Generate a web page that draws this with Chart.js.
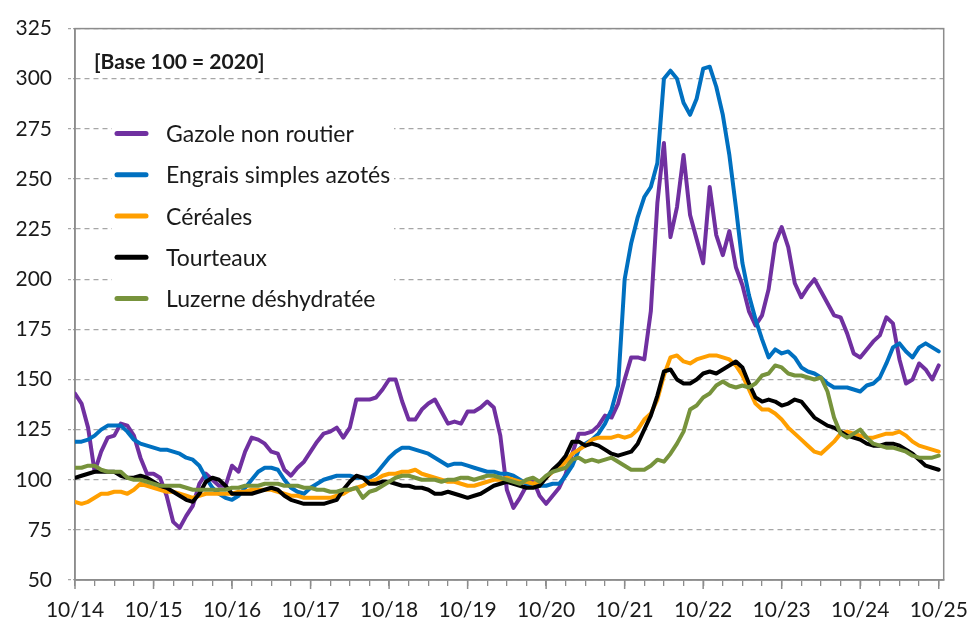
<!DOCTYPE html>
<html>
<head>
<meta charset="utf-8">
<script src="https://cdn.jsdelivr.net/npm/chart.js@4.4.1/dist/chart.umd.min.js"></script>
<style>
  html, body { margin: 0; padding: 0; background: #fff; }
  #wrap { width: 980px; height: 621px; }
</style>
</head>
<body>
<div id="wrap"><canvas id="myChart" width="980" height="621"></canvas></div>
<script>
// DONNEES : mensuelles, 10/2014 -> 10/2025 ---------------------------------------
const yearLabels = ['10/14', '10/15', '10/16', '10/17', '10/18', '10/19', '10/20', '10/21', '10/22', '10/23', '10/24', '10/25'];
const seriesNames = ['Gazole non routier', 'Engrais simples azotés', 'Céréales', 'Tourteaux', 'Luzerne déshydratée'];
const seriesColors = ['#7030A0', '#0070C0', '#FF9F00', '#000000', '#77933C'];

const gazole = [
  143, 138, 126, 104, 114, 121, 122, 128, 127, 122, 111, 103,
  103, 101, 92, 79, 76, 82, 87, 98, 103, 100, 97, 97,
  107, 104, 114, 121, 120, 118, 114, 113, 105, 102, 106, 109,
  114, 119, 123, 124, 126, 121, 126, 140, 140, 140, 141, 145,
  150, 150, 139, 130, 130, 135, 138, 140, 134, 128, 129, 128,
  134, 134, 136, 139, 136, 122, 95, 86, 91, 97, 100, 92,
  88, 92, 96, 103, 113, 123, 123, 124, 127, 132, 131, 138,
  150, 161, 161, 160, 184, 238, 268, 221, 236, 262, 232, 220,
  208, 246, 222, 212, 224, 206, 197, 184, 177, 182, 195, 218,
  226, 216, 198, 191, 196, 200, 194, 188, 182, 181, 173, 163,
  161, 165, 169, 172, 181, 178, 160, 148, 150, 158, 155, 150,
  157
];
const engrais = [
  119, 119, 120, 122, 125, 127, 127, 127, 124, 120, 118, 117,
  116, 115, 115, 114, 113, 111, 110, 107, 101, 96, 93, 91,
  90, 92, 96, 100, 104, 106, 106, 105, 100, 96, 94, 93,
  96, 98, 100, 101, 102, 102, 102, 101, 101, 101, 103, 107,
  111, 114, 116, 116, 115, 114, 113, 111, 109, 107, 108, 108,
  107, 106, 105, 104, 104, 103, 103, 102, 100, 98, 97, 97,
  97, 98, 98, 102, 107, 115, 118, 120, 123, 128, 135, 147,
  200, 218, 231, 241, 246, 258, 300, 304, 300, 288, 282, 290,
  305, 306, 296, 282, 262, 236, 208, 192, 180, 170, 161, 165,
  163, 164, 161, 156, 154, 153, 151, 148, 146, 146, 146, 145,
  144, 147, 148, 151, 158, 166, 168, 164, 161, 166, 168, 166,
  164
];
const cereales = [
  89, 88, 89, 91, 93, 93, 94, 94, 93, 95, 98, 97,
  96, 95, 94, 94, 93, 92, 91, 92, 93, 93, 93, 93,
  93, 94, 94, 95, 95, 95, 95, 94, 93, 92, 92, 91,
  91, 91, 91, 91, 92, 93, 95, 96, 97, 99, 100, 102,
  103, 103, 104, 104, 105, 103, 102, 101, 100, 99, 99, 98,
  97, 97, 98, 99, 100, 100, 101, 100, 99, 99, 98, 99,
  101, 104, 106, 109, 113, 115, 117, 120, 121, 121, 121, 122,
  121, 122, 125, 130, 133, 140, 152, 161, 162, 159, 158, 160,
  161, 162, 162, 161, 160, 157, 152, 145, 138, 135, 135, 133,
  130, 126, 123, 120, 117, 114, 113, 116, 119, 123, 124, 123,
  122, 121, 121, 122, 123, 123, 124, 122, 119, 117, 116, 115,
  114
];
const tourteaux = [
  101, 102, 103, 104, 104, 104, 104, 102, 101, 101, 102, 101,
  99, 97, 96, 94, 92, 90, 89, 93, 99, 101, 100, 97,
  93, 93, 93, 93, 94, 95, 96, 95, 92, 90, 89, 88,
  88, 88, 88, 89, 90, 95, 99, 102, 101, 98, 98, 99,
  99, 98, 97, 97, 96, 96, 95, 93, 93, 94, 93, 92,
  91, 92, 93, 95, 97, 98, 99, 98, 97, 96, 96, 97,
  101, 105, 108, 112, 119, 119, 117, 118, 117, 115, 113, 112,
  113, 114, 118, 125, 132, 142, 154, 155, 150, 148, 148, 150,
  153, 154, 153, 155, 157, 159, 156, 148, 141, 139, 140, 139,
  137, 138, 140, 139, 135, 131, 129, 127, 126, 124, 122, 121,
  120, 118, 117, 117, 118, 118, 117, 115, 113, 110, 107, 106,
  105
];
const luzerne = [
  106, 106, 107, 107, 105, 104, 104, 104, 101, 100, 100, 99,
  98, 97, 97, 97, 97, 96, 95, 95, 95, 95, 95, 95,
  96, 96, 97, 97, 97, 98, 98, 98, 97, 97, 97, 96,
  96, 95, 95, 94, 94, 95, 95, 96, 91, 94, 95, 97,
  99, 101, 102, 102, 101, 100, 100, 100, 99, 100, 100, 101,
  101, 100, 101, 102, 102, 101, 100, 99, 98, 100, 101, 99,
  102, 104, 105, 106, 110, 111, 109, 110, 109, 110, 111, 109,
  107, 105, 105, 105, 107, 110, 109, 113, 118, 124, 135, 137,
  141, 143, 147, 149, 147, 146, 147, 146, 148, 152, 153, 157,
  156, 153, 152, 152, 151, 150, 151, 144, 131, 123, 121, 123,
  125, 121, 118, 117, 116, 116, 115, 114, 112, 111, 111, 111,
  112
];

const allSeries = [gazole, engrais, cereales, tourteaux, luzerne];

// LE CADRE, LE TITRE ET LA LEGENDE : --------------------------------------------
const cadrePlugin = {
  id: 'cadre',
  beforeDatasetsDraw(chart) {
    const { ctx, chartArea: a, scales } = chart;
    ctx.save();
    // cadre gris autour de la zone de tracé
    ctx.strokeStyle = '#8c8c8c';
    ctx.lineWidth = 1.5;
    ctx.strokeRect(a.left, a.top, a.right - a.left, a.bottom - a.top);

    // graduations annuelles un peu plus longues
    yearLabels.forEach((lab, i) => {
      const x = scales.x.getPixelForValue(i * 12);
      ctx.beginPath();
      ctx.moveTo(x, a.bottom);
      ctx.lineTo(x, a.bottom + 9);
      ctx.stroke();
    });

    // mention de la base
    ctx.fillStyle = '#1a1a1a';
    ctx.font = 'bold 21px Lato';
    ctx.textBaseline = 'middle';
    ctx.fillText('[Base 100 = 2020]', a.left + 19, a.top + 34);

    // légende (fond blanc qui masque la grille)
    const x0 = a.left + 37;
    const y0 = a.top + 105;
    const pas = 41.25;
    ctx.fillStyle = '#fff';
    ctx.fillRect(x0, y0 - 24, 282, pas * 4 + 48);
    ctx.font = '23px Lato';
    ctx.lineCap = 'round';
    ctx.lineWidth = 5;
    seriesNames.forEach((nom, i) => {
      const y = y0 + i * pas;
      ctx.strokeStyle = seriesColors[i];
      ctx.beginPath();
      ctx.moveTo(x0 + 5, y);
      ctx.lineTo(x0 + 34, y);
      ctx.stroke();
      ctx.fillStyle = '#1a1a1a';
      ctx.fillText(nom, x0 + 54, y + 1);
    });
    ctx.restore();
  }
};

// LE GRAPHIQUE : -----------------------------------------------------------------
const ctx = document.getElementById('myChart');

new Chart(ctx, {
  type: 'line',
  data: {
    datasets: allSeries.map((serie, i) => ({
      label: seriesNames[i],
      data: serie.map((v, m) => ({ x: m, y: v })),
      borderColor: seriesColors[i],
      borderWidth: 4,
      pointRadius: 0,
      tension: 0,
      fill: false,
      borderJoinStyle: 'round',
      borderCapStyle: 'round',
      order: allSeries.length - i // la dernière série est tracée au-dessus
    }))
  },
  options: {
    responsive: false,
    animation: false,
    layout: { padding: { top: 22, right: 28, left: 0, bottom: 0 } },
    scales: {
      x: {
        type: 'linear',
        min: 0,
        max: 132.76,
        afterFit: (scale) => { scale.height = 41; },
        // une graduation par trimestre, libellé seulement en octobre
        afterBuildTicks: (scale) => {
          scale.ticks = Array.from({ length: 45 }, (_, k) => ({ value: k * 3 }));
        },
        grid: { drawOnChartArea: false, drawTicks: true, tickLength: 6, color: '#8c8c8c', lineWidth: 1.3 },
        border: { display: true, color: '#8c8c8c', width: 1.5 },
        ticks: {
          autoSkip: false,
          maxRotation: 0,
          padding: 12,
          color: '#1a1a1a',
          font: { family: 'Lato', size: 21 },
          callback: (value) => (value % 12 === 0 ? yearLabels[value / 12] : '')
        }
      },
      y: {
        min: 50,
        max: 325,
        afterFit: (scale) => { scale.width = 75; },
        grid: {
          color: '#a6a6a6',
          lineWidth: 1.3,
          tickLength: 7,
          tickColor: '#a6a6a6',
          tickBorderDash: [3, 2]
        },
        border: { display: true, color: '#8c8c8c', width: 1.5, dash: [5, 4] },
        ticks: {
          stepSize: 25,
          padding: 16,
          color: '#1a1a1a',
          font: { family: 'Lato', size: 21 }
        }
      }
    },
    plugins: {
      legend: { display: false },
      tooltip: { enabled: false }
    }
  },
  plugins: [cadrePlugin]
});
</script>
</body>
</html>
